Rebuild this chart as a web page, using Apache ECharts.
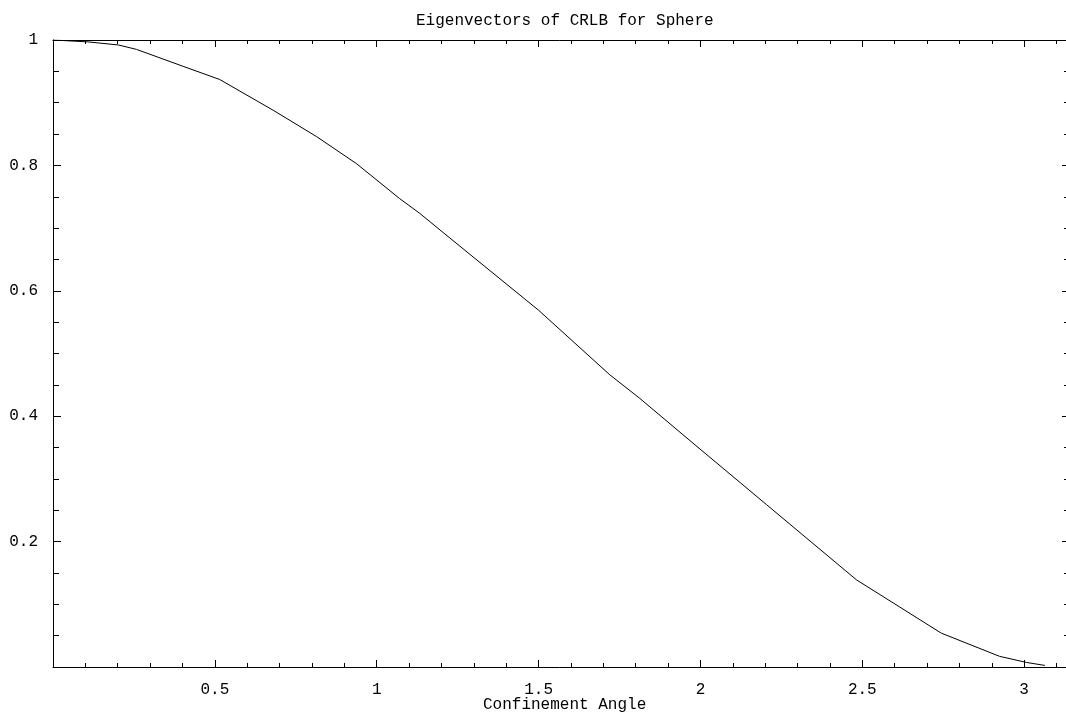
<!DOCTYPE html>
<html>
<head>
<meta charset="utf-8">
<script src="https://cdn.jsdelivr.net/npm/echarts@6/dist/echarts.min.js"></script>
<style>
html,body{margin:0;padding:0;background:#fff;overflow:hidden;}
#chart{width:1066px;height:715px;}
</style>
</head>
<body>
<div id="chart"></div>
<script>
// ---- data ----
const chartTitle = 'Eigenvectors of CRLB for Sphere';
const xAxisTitle = 'Confinement Angle';
const angle = [0.0, 0.108, 0.203, 0.258, 0.402, 0.515, 0.680, 0.814, 0.937, 1.071, 1.133, 1.205, 1.462, 1.500, 1.720, 1.812, 1.977, 2.204, 2.482, 2.744, 2.924, 3.007, 3.064];
const eigen = [1.0, 0.997, 0.992, 0.985, 0.958, 0.937, 0.888, 0.846, 0.803, 0.747, 0.7235, 0.693, 0.585, 0.569, 0.466, 0.4287, 0.357, 0.259, 0.139, 0.054, 0.017, 0.0073, 0.0025];
const xTickLabels = [0.5, 1, 1.5, 2, 2.5, 3];
const yTickLabels = [0.2, 0.4, 0.6, 0.8, 1];

const FONT = 'Liberation Mono';
const points = angle.map((a, i) => [a, eigen[i]]);

function fmt(list) {
  return function (v) {
    for (const t of list) { if (Math.abs(v - t) < 1e-9) return String(t); }
    return '';
  };
}

const lineColor = '#000';
function xAx(pos, interval, len, showLine, showLabel) {
  return {
    type: 'value', position: pos, min: 0, max: Math.PI, interval: interval,
    axisLine: { show: showLine, onZero: false, lineStyle: { color: lineColor, width: 1 } },
    axisTick: { show: true, inside: true, length: len, lineStyle: { color: lineColor, width: 1 } },
    axisLabel: { show: showLabel, formatter: fmt(xTickLabels), margin: 15, color: '#000', fontFamily: FONT, fontSize: 16, showMaxLabel: true, showMinLabel: true },
    splitLine: { show: false }
  };
}
function yAx(pos, showLabel) {
  return {
    type: 'value', position: pos, min: 0, max: 1, interval: 0.2,
    axisLine: { show: true, onZero: false, lineStyle: { color: lineColor, width: 1 } },
    axisTick: { show: true, inside: true, length: 8, lineStyle: { color: lineColor, width: 1 } },
    minorTick: { show: true, splitNumber: 4, length: 6, lineStyle: { color: lineColor, width: 1 } },
    axisLabel: { show: showLabel, formatter: fmt(yTickLabels), margin: 15, color: '#000', fontFamily: FONT, fontSize: 16 },
    splitLine: { show: false }, minorSplitLine: { show: false }
  };
}

const chart = echarts.init(document.getElementById('chart'), null, { renderer: 'canvas' });
chart.setOption({
  backgroundColor: '#fff',
  animation: false,
  title: [
    { text: chartTitle, left: 411, top: 8, textStyle: { fontFamily: FONT, fontSize: 16, fontWeight: 'normal', color: '#000' } },
    { text: xAxisTitle, left: 478, top: 692, textStyle: { fontFamily: FONT, fontSize: 16, fontWeight: 'normal', color: '#000' } }
  ],
  grid: { left: 53, top: 40, width: 1017, height: 627, containLabel: false, outerBoundsMode: 'none' },
  xAxis: [
    xAx('bottom', 0.5, 7, true, true),
    xAx('bottom', 0.1, 4, false, false),
    xAx('top', 0.5, 7, true, false),
    xAx('top', 0.1, 4, false, false)
  ],
  yAxis: [yAx('left', true), yAx('right', false)],
  series: [{
    type: 'line', xAxisIndex: 0, yAxisIndex: 0, data: points,
    showSymbol: false, symbol: 'none', smooth: false,
    lineStyle: { color: '#000', width: 1 }
  }]
});
</script>
</body>
</html>
